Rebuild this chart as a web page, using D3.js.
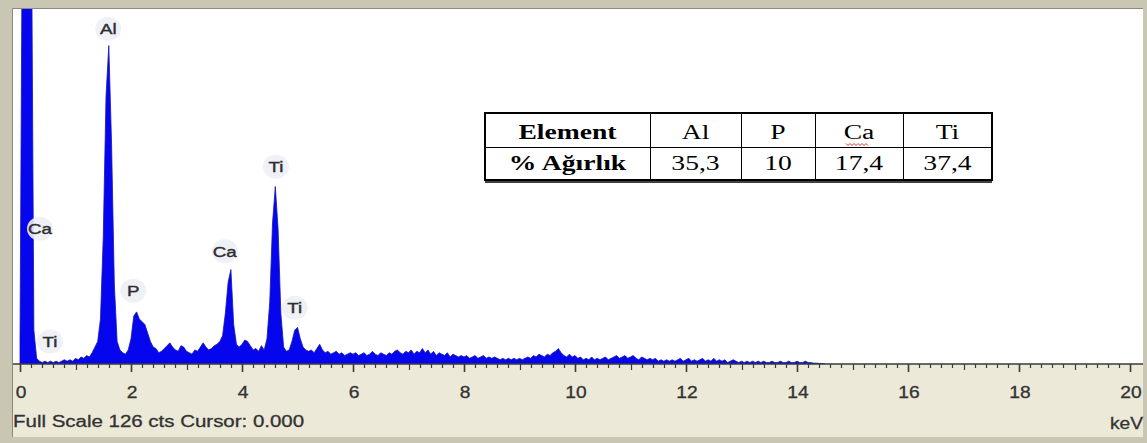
<!DOCTYPE html>
<html>
<head>
<meta charset="utf-8">
<script src="https://cdn.jsdelivr.net/npm/d3@7"></script>
<style>
body { margin:0; padding:0; background:#fff; }
svg { display:block; }
</style>
</head>
<body>
<div id="chart"></div>
<script>
// spectrum: counts per 0.05 keV channel, starting at 0 keV
var channelWidth = 0.05;
var counts = [
 8,190,240,240,180,12,2,1,0.5,1, 0.5,1,0.5,1,0.5,1,1.5,1,1.5,1,
 2,1.5,2.5,2,3,2.5,4,6,8,16, 45,95,113,78,28,8,5,4,3.5,5,
 9,17,18.5,16,15,14,11,8,6,5.5, 4,4.5,5.5,6.5,7.5,6,5,4.5,6.5,6,
 4.5,4,3.5,5,4.5,6,7.5,6,5,5.5, 6.5,7,8,10,18,29,33.5,14,7,6,
 7,8.5,8,6.5,5,5.5,4.5,6.5,5,9, 22,50,63,48,18,6,4.5,5,8,12,
 13,9,6,5,4.5,5,4,5.5,7,5, 4,4.5,3.5,4,4.5,3.5,4,3,3.5,4,
 3.5,4,3,3.5,4,3,3.5,4.5,3.5,3, 4,3.5,3,4,3.5,4.5,5,4,3.5,4.5,
 4,5,3.5,4.5,4,5.5,4,5,3.5,4.5, 3,4,3.5,3,4,2.5,3.5,3,2.5,3,
 2.5,3,2,2.5,3,2,2.5,3,2,2.5, 2,2.5,2,1.5,2,1.5,2,1.5,2,1.5,
 2,1.5,2,2.5,2,3,2.5,3.5,3,2.5, 3.5,3,4,4.5,5.5,4,3,2.5,3.5,2.5,
 3,2,2.5,1.5,2,1.5,2.5,1.5,2,1.5, 2,2.5,1.5,2,2.5,3,2,2.5,3,2,
 2.5,3,2,1.5,2.5,2,1.5,2,1.5,2, 1,1.5,1,1.5,1,1.5,1,1.5,2,1,
 1.5,2,1,1.5,1,1.5,2,1,1.5,1, 2,1,1.5,1,1.5,0.5,1,1.5,1,0.5,
 1,0.5,1,0.5,1,0.5,1,0.5,1,0.5, 0.5,1,0.5,0.5,1,0.5,0.5,1,0.5,0.5,
 1,0.5,0.5,1,0.5,0.5,0.3,0.3,0.2,0.2, 0
];

// peak markers: element, energy (keV), label height (cts)
var peakNames = ["Al", "Ca", "Ti", "P", "Ca", "Ti", "Ti"];
var peakKeV   = [1.59, 0.36, 0.54, 2.04, 3.69, 4.61, 4.95];
var peakCts   = [119, 48, 8, 26, 40, 70, 20];

var axisLabels = [0, 2, 4, 6, 8, 10, 12, 14, 16, 18, 20];
var fullScale = 126;

var tableHead = ["Element", "Al", "P", "Ca", "Ti"];
var tableRow  = ["% Ağırlık", "35,3", "10", "17,4", "37,4"];

var W = 1147, H = 443;
var svg = d3.select("#chart").append("svg").attr("width", W).attr("height", H);

// window frame
svg.append("rect").attr("x",0).attr("y",0).attr("width",W).attr("height",H).attr("fill","#c9c6b4");
svg.append("rect").attr("x",12).attr("y",8).attr("width",1131).attr("height",429).attr("fill","#ece9d8");
svg.append("path").attr("d","M12.5,437 V8.5 H1143").attr("fill","none").attr("stroke","#8c897b");
svg.append("rect").attr("x",13).attr("y",9).attr("width",1130).attr("height",355).attr("fill","#fff");

var x = d3.scaleLinear().domain([0, 20]).range([20, 1130]);
var y = d3.scaleLinear().domain([0, fullScale]).range([364, 9]);

svg.append("clipPath").attr("id","plotclip")
  .append("rect").attr("x",13).attr("y",9).attr("width",1130).attr("height",355);

var area = d3.area()
  .x(function(d, i){ return x(i * channelWidth); })
  .y0(y(0))
  .y1(function(d){ return y(d); });

svg.append("path")
  .datum(counts)
  .attr("clip-path","url(#plotclip)")
  .attr("d", area)
  .attr("fill","#0606ee")
  .attr("stroke","#1414b4")
  .attr("stroke-width",0.8);

// text helper, stretched horizontally like the screenshot
function stext(g, str, cx, cy, sx, anchor) {
  return g.append("text")
    .attr("transform","translate(" + cx + "," + cy + ") scale(" + sx + ",1)")
    .attr("text-anchor", anchor || "middle")
    .text(str);
}

// peak labels with light halo
var lab = svg.append("g").attr("font-family","Liberation Sans, Arial, sans-serif")
  .attr("font-size",15).attr("fill","#2e2e2e")
  .attr("stroke","#2e2e2e").attr("stroke-width",0.4);
peakNames.forEach(function(n, i){
  var px = x(peakKeV[i]), py = y(peakCts[i]);
  lab.append("ellipse").attr("cx",px).attr("cy",py).attr("rx",13).attr("ry",12)
    .attr("fill","#eef0f6").attr("stroke","none").attr("opacity",0.9);
  stext(lab, n, px, py + 5.5, 1.25);
});

// axis baseline and ticks (0.2 keV minor, 1 keV medium, 2 keV major)
var ax = svg.append("g").attr("stroke","#3a3a3a");
ax.append("line").attr("x1",13).attr("x2",1143).attr("y1",y(0)).attr("y2",y(0)).attr("stroke-width",1.6);
ax.selectAll("line.tk")
  .data(d3.range(0, 101, 1))
  .enter().append("line")
  .attr("class","tk")
  .attr("x1", function(d){ return Math.round(x(d / 5)) + 0.5; })
  .attr("x2", function(d){ return Math.round(x(d / 5)) + 0.5; })
  .attr("y1", y(0))
  .attr("y2", function(d){ return y(0) + (d % 10 == 0 ? 8 : d % 5 == 0 ? 6 : 4); })
  .attr("stroke-width", function(d){ return d % 10 == 0 ? 1.6 : 1.2; });

var txt = svg.append("g").attr("font-family","Liberation Sans, Arial, sans-serif")
  .attr("font-size",16).attr("fill","#333")
  .attr("stroke","#333").attr("stroke-width",0.3);
axisLabels.forEach(function(v){
  stext(txt, String(v), x(v) + 1, 398, 1.2);
});
stext(txt, "Full Scale " + fullScale + " cts Cursor: 0.000", 13, 427, 1.28, "start");
stext(txt, "keV", 1143, 429, 1.2, "end");

// element table
var colX = [485, 650, 741, 815, 903, 992];
var tb = svg.append("g").attr("font-family","Liberation Serif, Times New Roman, serif")
  .attr("font-size",20).attr("fill","#000");
tb.append("rect").attr("x",485).attr("y",113).attr("width",507).attr("height",67)
  .attr("fill","#fff").attr("stroke","#000").attr("stroke-width",2);
tb.append("line").attr("x1",485).attr("x2",992).attr("y1",147.5).attr("y2",147.5).attr("stroke","#000");
tb.append("line").attr("x1",485).attr("x2",992).attr("y1",182).attr("y2",182).attr("stroke","#000").attr("stroke-width",1.5);
colX.slice(1, 5).forEach(function(cx){
  tb.append("line").attr("x1",cx + 0.5).attr("x2",cx + 0.5).attr("y1",113).attr("y2",180).attr("stroke","#000");
});
tableHead.forEach(function(t, i){
  var cx = (colX[i] + colX[i + 1]) / 2;
  var s = stext(tb, t, cx, 139, 1.38);
  if (i == 0) s.attr("font-weight","bold");
});
tableRow.forEach(function(t, i){
  var cx = (colX[i] + colX[i + 1]) / 2;
  var s = stext(tb, t, cx, 170, 1.38);
  if (i == 0) s.attr("font-weight","bold");
});
// spell-check squiggle under "Ca"
var sq = "M846,143.5";
for (var k = 0; k < 11; k++) sq += " l2," + (k % 2 ? -2 : 2);
tb.append("path").attr("d", sq).attr("fill","none").attr("stroke","#e03030").attr("stroke-width",1);
</script>
</body>
</html>
